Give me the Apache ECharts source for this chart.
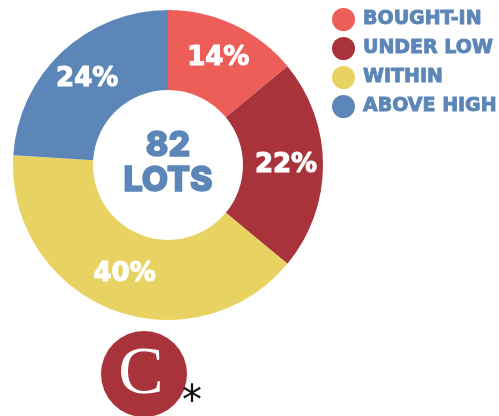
<!DOCTYPE html>
<html><head><meta charset="utf-8">
<script src="https://cdn.jsdelivr.net/npm/echarts@6/dist/echarts.min.js"></script>
<style>html,body{margin:0;padding:0;background:#fff}#c{width:499px;height:416px}</style>
</head><body><div id="c"></div>
<script>
const categories = ['BOUGHT-IN', 'UNDER LOW', 'WITHIN', 'ABOVE HIGH'];
const percentValues = [14, 22, 40, 24];
const sliceColors = ['#EC5E57', '#A8333A', '#E8D362', '#5B86B7'];
const totalLots = 82;

const chart = echarts.init(document.getElementById('c'), null, {renderer: 'canvas'});
const blue = '#5B86B7';
const FONT = 'Inter';
const WIDE = '"DejaVu Sans"';
chart.setOption({
  animation: false,
  legend: {
    orient: 'vertical',
    left: 327, top: 3,
    icon: 'circle',
    itemWidth: 23, itemHeight: 23, itemGap: 6,
    textStyle: {color: blue, fontFamily: 'DejaVu Sans', fontWeight: 'bold', fontSize: 19,
      textBorderColor: blue, textBorderWidth: 0.9, padding: [0, 0, 0, 3]},
    data: categories,
    selectedMode: false
  },
  series: [{
    type: 'pie',
    center: [168, 165],
    radius: [75, 155],
    startAngle: 90,
    clockwise: true,
    silent: true,
    itemStyle: {borderWidth: 0},
    label: {
      position: 'inside',
      formatter: '{c}%',
      color: '#fff',
      fontFamily: 'DejaVu Sans',
      fontWeight: 'bold',
      fontSize: 26,
      textBorderColor: '#fff',
      textBorderWidth: 1.1
    },
    labelLine: {show: false},
    data: categories.map((n, i) => ({name: n, value: percentValues[i], itemStyle: {color: sliceColors[i]}}))
  }],
  graphic: [
    {type: 'text', style: {
      text: totalLots + '\nLOTS', x: 168, y: 163, align: 'center', verticalAlign: 'middle',
      fill: blue, font: '800 34px ' + FONT, lineHeight: 35, stroke: blue, lineWidth: 1.6
    }},
    {type: 'circle', shape: {cx: 144, cy: 374, r: 43}, style: {fill: '#A8333A'}},
    {type: 'text', style: {text: 'C', x: 141, y: 375, align: 'center', verticalAlign: 'middle',
      fill: '#fff', font: '68px "Liberation Serif"'}},
    {type: 'text', style: {text: '*', x: 192, y: 404, align: 'center', verticalAlign: 'middle',
      fill: '#111', font: '40px ' + WIDE}}
  ]
});
</script></body></html>
